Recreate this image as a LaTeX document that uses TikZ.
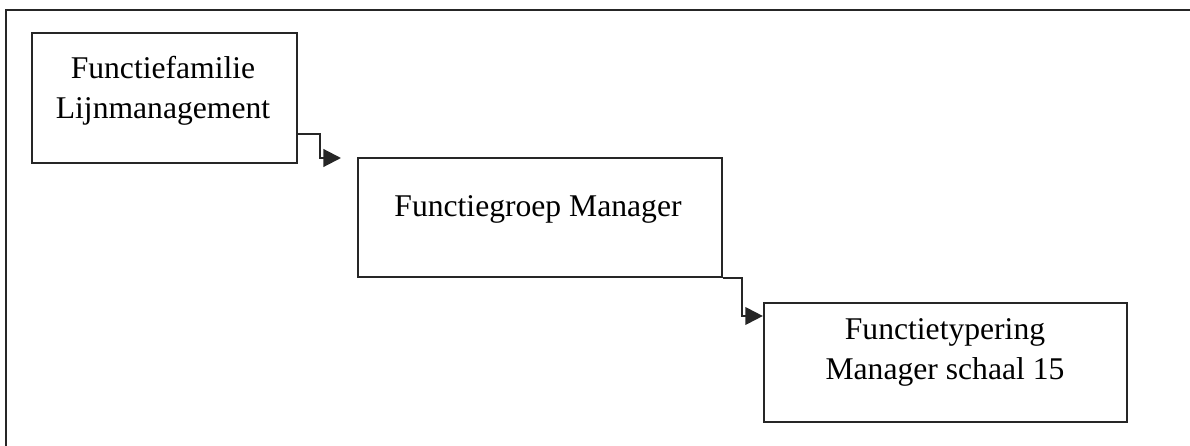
\documentclass[tikz,border=0pt]{standalone}
\usepackage{fontspec}
\setmainfont{Liberation Serif}
\usetikzlibrary{arrows.meta}
\begin{document}
\begin{tikzpicture}
        [
          x=0.02cm, y=-0.02cm,
          box/.style={draw=black!85, line width=1.3pt, rectangle, inner sep=0pt},
          txt/.style={align=center, font=\fontsize{18}{22.8}\selectfont},
          link/.style={draw=black!85, line width=1.2pt, -{Triangle[length=10pt,width=10pt]}}
        ]
        \useasboundingbox (0,0) rectangle (1190,446);
        % frame
        \draw [black!85, line width=1.3pt] (6,446) -- (6,10) -- (1190,10);
        % boxes
        \node [box, minimum width=5.3cm, minimum height=2.6cm] (fam) at (164.5,98) {};
        \node [box, minimum width=7.28cm, minimum height=2.38cm] (grp) at (540,217.5) {};
        \node [box, minimum width=7.26cm, minimum height=2.38cm] (typ) at (945.5,362.5) {};
        % labels
        \node [txt] (famtext) at (163,91) {Functiefamilie\\Lijnmanagement};
        \node [txt] (grptext) at (538,209) {Functiegroep Manager};
        \node [txt] (typtext) at (945,352) {Functietypering\\Manager schaal 15};
        % arrows
        \coordinate (tip1) at (341,158);
        \draw [link] ([yshift=0.6cm]fam.south east) -| (320,158) -- (tip1);
        \draw [link] (grp.south east) -| (742,316) -- (typ.west |- 742,316);
\end{tikzpicture}
\end{document}
